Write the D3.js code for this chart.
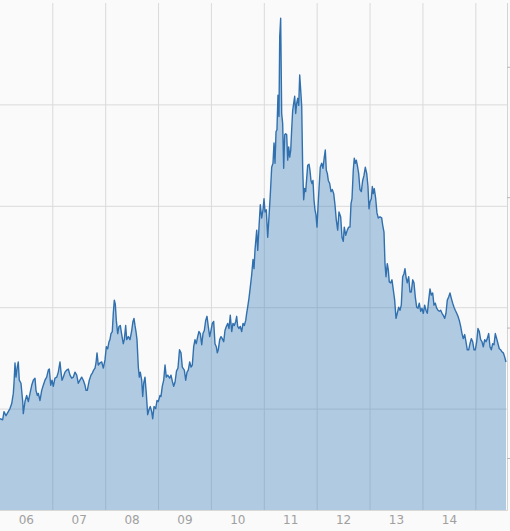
<!DOCTYPE html>
<html><head><meta charset="utf-8">
<script src="https://cdn.jsdelivr.net/npm/d3@7"></script>
<style>html,body{margin:0;padding:0;background:#fafafa;}svg{display:block}</style>
</head><body>
<svg id="chart" width="510" height="531"></svg>
<script>
// dates as decimal years, values in chart units
const dates = [2006.011,2006.062,2006.087,2006.125,2006.168,2006.200,2006.233,2006.263,2006.276,2006.295,2006.314,2006.338,2006.357,2006.376,2006.408,2006.441,2006.452,2006.484,2006.516,2006.547,2006.579,2006.611,2006.641,2006.673,2006.692,2006.717,2006.736,2006.768,2006.800,2006.830,2006.862,2006.894,2006.925,2006.944,2006.970,2006.995,
2007.019,2007.051,2007.084,2007.114,2007.146,2007.165,2007.184,2007.208,2007.241,2007.273,2007.303,2007.335,2007.367,2007.397,2007.430,2007.462,2007.492,2007.524,2007.556,2007.587,2007.619,2007.638,2007.662,2007.700,2007.732,2007.757,2007.783,2007.808,2007.827,2007.846,2007.870,2007.902,2007.935,2007.965,2007.997,
2008.022,2008.048,2008.073,2008.091,2008.110,2008.135,2008.154,2008.173,2008.192,2008.211,2008.237,2008.262,2008.286,2008.313,2008.343,2008.362,2008.388,2008.407,2008.438,2008.470,2008.502,2008.526,2008.545,2008.564,2008.583,2008.602,2008.627,2008.646,2008.664,2008.691,2008.710,2008.729,2008.753,2008.778,2008.804,2008.829,2008.854,2008.880,2008.899,2008.924,2008.956,2008.980,
2009.005,2009.037,2009.056,2009.080,2009.107,2009.132,2009.156,2009.183,2009.220,2009.245,2009.270,2009.296,2009.321,2009.349,2009.377,2009.406,2009.434,2009.459,2009.497,2009.523,2009.548,2009.572,2009.599,2009.623,2009.648,2009.674,2009.699,2009.723,2009.750,2009.774,2009.799,2009.826,2009.850,2009.875,2009.901,2009.926,2009.950,2009.977,
2010.001,2010.026,2010.052,2010.077,2010.102,2010.121,2010.139,2010.166,2010.191,2010.215,2010.242,2010.266,2010.291,2010.317,2010.342,2010.366,2010.393,2010.417,2010.442,2010.469,2010.487,2010.506,2010.531,2010.555,2010.582,2010.607,2010.631,2010.658,2010.676,2010.695,2010.720,2010.745,2010.771,2010.796,2010.815,2010.833,2010.866,2010.885,2010.909,2010.934,2010.960,2010.985,
2011.004,2011.023,2011.047,2011.074,2011.098,2011.123,2011.149,2011.174,2011.193,2011.212,2011.231,2011.249,2011.268,2011.287,2011.301,2011.319,2011.338,2011.357,2011.376,2011.395,2011.414,2011.433,2011.452,2011.471,2011.490,2011.509,2011.527,2011.546,2011.565,2011.584,2011.603,2011.622,2011.641,2011.660,2011.679,2011.698,2011.717,2011.735,2011.754,2011.773,2011.792,2011.811,2011.830,2011.855,2011.873,2011.892,2011.911,2011.930,2011.949,2011.968,2011.987,
2012.006,2012.025,2012.044,2012.068,2012.095,2012.119,2012.144,2012.163,2012.182,2012.201,2012.220,2012.246,2012.271,2012.295,2012.322,2012.346,2012.371,2012.397,2012.422,2012.454,2012.479,2012.503,2012.522,2012.549,2012.579,2012.605,2012.630,2012.649,2012.668,2012.692,2012.711,2012.730,2012.749,2012.768,2012.794,2012.819,2012.844,2012.870,2012.895,2012.919,2012.946,2012.970,2012.989,
2013.008,2013.033,2013.052,2013.070,2013.089,2013.116,2013.140,2013.165,2013.197,2013.229,2013.248,2013.273,2013.292,2013.311,2013.335,2013.354,2013.373,2013.400,2013.424,2013.449,2013.475,2013.500,2013.524,2013.551,2013.575,2013.600,2013.626,2013.651,2013.670,2013.689,2013.713,2013.740,2013.764,2013.789,2013.816,2013.840,2013.865,2013.891,2013.916,2013.940,2013.967,2013.991,
2014.016,2014.042,2014.067,2014.092,2014.118,2014.143,2014.167,2014.194,2014.218,2014.243,2014.269,2014.294,2014.319,2014.345,2014.370,2014.394,2014.421,2014.445,2014.470,2014.496,2014.521,2014.545,2014.572,2014.597,2014.621,2014.648,2014.672,2014.697,2014.723,2014.748,2014.772,2014.799,2014.823,2014.848,2014.875,2014.899,2014.924,2014.950,2014.975,2014.999,
2015.026,2015.050,2015.075,2015.101,2015.126,2015.151,2015.177,2015.202,2015.226,2015.253,2015.277,2015.302,2015.328,2015.353,2015.378,2015.404,2015.429,2015.453,2015.480,2015.504,2015.529,2015.555,2015.580];

const values = [90,89,97,93,97,100,105,115,125,145,131,141,146,128,125,107,95,107,113,107,115,123,128,130,118,113,115,108,118,123,128,131,138,139,123,128,
122,130,131,136,146,136,128,131,136,138,139,133,130,131,136,133,125,128,131,128,123,118,118,128,133,135,138,140,145,155,143,145,146,140,148,
161,159,166,168,174,176,194,207,203,187,174,181,182,173,164,168,182,168,171,168,177,186,189,182,176,168,141,131,136,128,112,125,131,115,94,99,102,97,90,102,100,108,
107,113,112,122,128,143,131,133,130,133,127,122,126,137,140,158,155,141,138,128,136,138,146,141,143,161,168,164,171,176,174,163,174,177,187,191,181,171,
177,184,186,164,161,155,158,168,171,169,166,177,181,184,179,192,176,184,182,186,191,181,179,181,176,184,182,187,194,200,209,220,232,247,238,256,276,256,279,301,288,296,
307,294,296,269,289,311,338,342,362,342,373,375,409,388,467,485,391,381,337,370,371,370,345,358,348,355,375,394,401,408,391,401,406,399,429,414,398,338,306,317,314,327,340,341,335,325,322,325,306,296,291,
279,299,317,338,342,337,348,355,335,332,325,322,314,316,312,301,286,276,294,289,269,265,279,271,276,279,279,302,307,335,347,342,345,340,332,316,314,325,330,338,332,319,297,
304,307,319,312,317,307,293,288,289,288,281,274,243,230,243,237,225,224,227,217,207,189,194,200,197,202,230,233,238,230,224,230,215,215,227,224,210,200,199,204,196,199,
194,202,197,194,207,218,212,214,202,204,199,197,196,197,194,192,189,194,207,210,214,209,204,200,197,194,191,187,181,174,169,173,166,158,158,164,169,166,158,158,
166,179,176,168,166,161,168,166,169,174,161,158,164,163,174,169,164,159,158,156,155,151,146];

const yearBoundaries = [2007,2008,2009,2010,2011,2012,2013,2014,2015];
const labelYears = [2006,2007,2008,2009,2010,2011,2012,2013,2014];
const yearLabels = ["06","07","08","09","10","11","12","13","14"];
const gridValues = [100,200,300,400];
const rightTickValues = [10,20,30,40];

const data = dates.map((d,i)=>({t:d, v:values[i]}));

const plot = {left:0, top:3, right:507.5, bottom:510};
const svg = d3.select("#chart");
svg.append("rect").attr("width",510).attr("height",531).attr("fill","#fafafa");

const x = d3.scaleLinear().domain([2006, 2015.6]).range([-0.6, 507.05]);
const y = d3.scaleLinear().domain([0, 500]).range([plot.bottom, plot.top]);
const yRight = d3.scaleLinear().domain([6.01, 44.89]).range([plot.bottom, plot.top]);

// grid
const gx = svg.append("g").attr("transform",`translate(0,${plot.bottom})`)
  .call(d3.axisBottom(x).tickValues(yearBoundaries).tickSize(-(plot.bottom-plot.top)).tickFormat(""));
gx.select(".domain").remove();
gx.selectAll(".tick line").attr("stroke","#dadada");

const gy = svg.append("g").attr("transform",`translate(${plot.left},0)`)
  .call(d3.axisLeft(y).tickValues(gridValues).tickSize(-(plot.right-plot.left)).tickFormat(""));
gy.select(".domain").remove();
gy.selectAll(".tick line").attr("stroke","#dadada");

// clip
svg.append("clipPath").attr("id","clip").append("rect")
  .attr("x",plot.left).attr("y",plot.top).attr("width",plot.right-plot.left).attr("height",plot.bottom-plot.top);

const area = d3.area().x(d=>x(d.t)).y0(y(0)).y1(d=>y(d.v)).curve(d3.curveLinear);
const line = d3.line().x(d=>x(d.t)).y(d=>y(d.v)).curve(d3.curveLinear);

svg.append("path").datum(data).attr("clip-path","url(#clip)")
  .attr("d",area).attr("fill","rgb(65,130,190)").attr("fill-opacity",0.4);
svg.append("path").datum(data).attr("clip-path","url(#clip)")
  .attr("d",line).attr("fill","none").attr("stroke","#3170ae").attr("stroke-width",1.4).attr("stroke-linejoin","round");

// borders
svg.append("line").attr("x1",plot.right).attr("x2",plot.right).attr("y1",plot.top).attr("y2",plot.bottom+0.5)
  .attr("stroke","#d4d4d4");
svg.append("line").attr("x1",plot.left).attr("x2",plot.right).attr("y1",plot.bottom+0.5).attr("y2",plot.bottom+0.5)
  .attr("stroke","#d8d8d8");

// right axis ticks
const gr = svg.append("g").attr("transform",`translate(${plot.right-0.5},0)`)
  .call(d3.axisRight(yRight).tickValues(rightTickValues).tickSize(3).tickFormat(""));
gr.select(".domain").remove();
gr.selectAll(".tick line").attr("stroke","#b8b8b8");

// bottom labels
const gl = svg.append("g").attr("transform",`translate(0,${plot.bottom})`)
  .call(d3.axisBottom(x).tickValues(labelYears.map(d=>d+0.5)).tickSize(0).tickPadding(5)
    .tickFormat((d,i)=>yearLabels[i]));
gl.select(".domain").remove();
gl.selectAll("text").attr("fill","#a0a0a0").attr("font-size","12px").attr("font-family","'DejaVu Sans', Verdana, sans-serif");
</script>
</body></html>
